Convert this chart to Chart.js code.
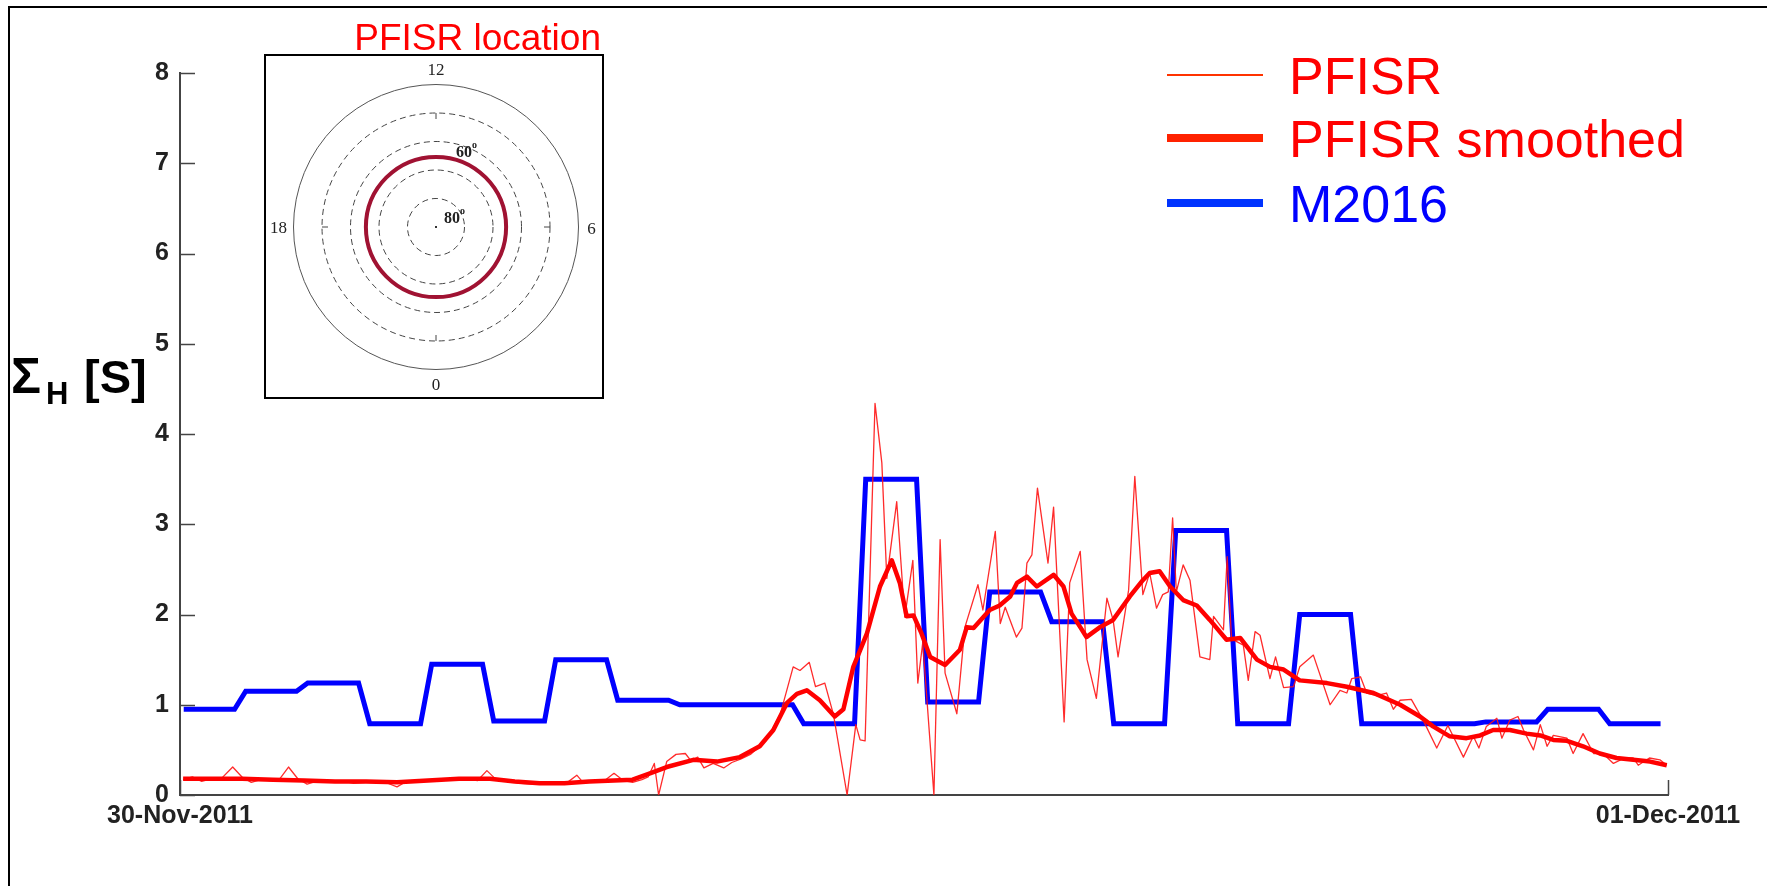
<!DOCTYPE html>
<html>
<head>
<meta charset="utf-8">
<title>Sigma_H at PFISR, 30 Nov 2011</title>
<script src="https://cdn.jsdelivr.net/npm/chart.js@4.4.1/dist/chart.umd.min.js"></script>
<style>
  html, body { margin: 0; padding: 0; background: #fff; }
  #wrap { width: 1767px; height: 886px; }
</style>
</head>
<body>
<div id="wrap"><canvas id="chart" width="1767" height="886"></canvas></div>
<script>
// time axis: hours after 30-Nov-2011 00:00 UT
const rawHours = [
  0.05, 0.2, 0.35, 0.5, 0.65, 0.85, 1.0, 1.15, 1.3, 1.45,
  1.6, 1.75, 1.9, 2.05, 2.2, 2.4, 2.6, 2.8, 3.0, 3.2,
  3.35, 3.5, 3.65, 3.85, 4.0, 4.2, 4.4, 4.6, 4.8, 4.95,
  5.1, 5.3, 5.5, 5.7, 5.9, 6.1, 6.25, 6.4, 6.5, 6.7,
  6.85, 7.0, 7.15, 7.3, 7.45,
  7.55, 7.65, 7.72, 7.85, 8.0, 8.15, 8.24, 8.35, 8.45, 8.6,
  8.77, 8.9, 9.05, 9.2, 9.45, 9.68, 9.89, 10.0, 10.15, 10.25,
  10.4, 10.54, 10.76, 10.9, 10.97, 11.05, 11.21, 11.32, 11.4, 11.56,
  11.69, 11.82, 11.9, 11.98, 12.16, 12.26, 12.34, 12.53, 12.66, 12.87,
  12.95, 13.15, 13.23, 13.31, 13.49, 13.58, 13.66, 13.74, 13.83, 14.0,
  14.09, 14.26, 14.35, 14.52, 14.63, 14.78, 14.95, 15.05, 15.13, 15.3,
  15.4, 15.53, 15.64, 15.75, 15.85, 15.94, 16.01, 16.07, 16.18, 16.29,
  16.45, 16.61, 16.67, 16.83, 16.89, 16.96, 17.15, 17.23, 17.34, 17.42,
  17.58, 17.67, 17.8, 17.96, 18.06, 18.28, 18.55, 18.71, 18.82, 18.9,
  19.04, 19.14, 19.3, 19.46, 19.57, 19.68, 19.86, 20.05, 20.27, 20.45,
  20.7, 20.86, 20.95, 21.07, 21.24, 21.32, 21.45, 21.58, 21.67, 21.83,
  21.94, 22.05, 22.15, 22.37, 22.47, 22.63, 22.8, 22.95, 23.12, 23.3,
  23.44, 23.52, 23.7, 23.87, 23.98
];
const rawValues = [
  0.17, 0.2, 0.15, 0.18, 0.17, 0.31, 0.2, 0.14, 0.17, 0.16,
  0.17, 0.31, 0.18, 0.12, 0.15, 0.14, 0.16, 0.13, 0.14, 0.15,
  0.13, 0.09, 0.15, 0.16, 0.15, 0.17, 0.17, 0.18, 0.16, 0.27,
  0.17, 0.15, 0.13, 0.12, 0.13, 0.13, 0.14, 0.22, 0.14, 0.15,
  0.16, 0.24, 0.16, 0.14, 0.17,
  0.2, 0.35, 0.0, 0.37, 0.45, 0.46, 0.38, 0.42, 0.3, 0.35,
  0.3, 0.36, 0.4, 0.45, 0.6, 0.89, 1.42, 1.38, 1.47, 1.2,
  1.24, 0.89, 0.0, 0.78, 0.61, 0.6, 4.34, 3.68, 2.4, 3.25,
  1.97, 2.6, 1.24, 1.69, 0.0, 2.83, 1.35, 0.9, 1.86, 2.33,
  2.05, 2.92, 1.9, 2.08, 1.75, 1.85, 2.57, 2.66, 3.4, 2.57,
  3.19, 0.81, 2.35, 2.7, 1.5, 1.07, 2.18, 1.94, 1.53, 2.27,
  3.53, 2.22, 2.46, 2.07, 2.22, 2.25, 3.07, 2.25, 2.55, 2.38,
  1.53, 1.5, 1.98, 1.83, 2.64, 1.73, 1.66, 1.27, 1.81, 1.77,
  1.29, 1.53, 1.19, 1.2, 1.42, 1.55, 1.0, 1.16, 1.13, 1.29,
  1.31, 1.13, 1.1, 1.13, 0.95, 1.05, 1.06, 0.83, 0.52, 0.77,
  0.42, 0.65, 0.52, 0.76, 0.85, 0.63, 0.83, 0.87, 0.72, 0.5,
  0.78, 0.54, 0.66, 0.63, 0.46, 0.68, 0.46, 0.46, 0.35, 0.41,
  0.41, 0.33, 0.41, 0.39, 0.33
];

const smoothHours = [
  0.05, 0.5, 1.0, 1.5, 2.0, 2.5, 3.0, 3.5, 4.0, 4.5,
  5.0, 5.4, 5.8, 6.2, 6.6, 7.0, 7.3, 7.58, 7.85, 8.28,
  8.66, 9.03, 9.35, 9.57, 9.79, 9.95, 10.11, 10.32, 10.56, 10.7,
  10.86, 11.08, 11.29, 11.48, 11.61, 11.72, 11.83, 11.96, 12.1, 12.34,
  12.58, 12.69, 12.8, 13.06, 13.22, 13.39, 13.5, 13.66, 13.82, 14.09,
  14.25, 14.38, 14.52, 14.62, 14.84, 15.05, 15.32, 15.53, 15.64, 15.8,
  15.97, 16.18, 16.4, 16.61, 16.88, 17.1, 17.37, 17.58, 17.8, 18.06,
  18.5, 18.82, 19.25, 19.68, 20.0, 20.21, 20.48, 20.75, 20.97, 21.18,
  21.45, 21.72, 21.94, 22.15, 22.37, 22.63, 22.9, 23.17, 23.44, 23.71, 23.98
];
const smoothValues = [
  0.18, 0.18, 0.18, 0.17, 0.16, 0.15, 0.15, 0.14, 0.16, 0.18,
  0.18, 0.15, 0.13, 0.13, 0.15, 0.16, 0.17, 0.24, 0.31, 0.39,
  0.37, 0.42, 0.54, 0.72, 1.02, 1.12, 1.16, 1.05, 0.87, 0.95,
  1.42, 1.79, 2.31, 2.6, 2.35, 1.98, 1.99, 1.79, 1.53, 1.44,
  1.61, 1.86, 1.85, 2.05, 2.1, 2.2, 2.35, 2.42, 2.31, 2.44,
  2.31, 2.01, 1.86, 1.75, 1.86, 1.94, 2.2, 2.38, 2.46, 2.48,
  2.31, 2.16, 2.1, 1.94, 1.72, 1.74, 1.5, 1.42, 1.39, 1.27,
  1.24, 1.2, 1.13, 1.0, 0.87, 0.76, 0.65, 0.63, 0.66, 0.72,
  0.72, 0.68, 0.66, 0.61, 0.6, 0.54, 0.46, 0.41, 0.39, 0.37, 0.33
];

// M2016 model: one value per UT hour
const modelHours = [
  0, 1, 2, 3, 4, 5, 6, 7, 8, 9, 10, 11,
  12, 13, 14, 15, 16, 17, 18, 19, 20, 21, 22, 23
];
const modelValues = [
  0.95, 1.15, 1.24, 0.79, 1.45, 0.82, 1.5, 1.05, 1.0, 1.0, 0.79, 3.5,
  1.03, 2.25, 1.92, 0.79, 2.93, 0.79, 2.0, 0.79, 0.79, 0.81, 0.95, 0.79
];

const yTickValues = [0, 1, 2, 3, 4, 5, 6, 7, 8];
const xTickHours = [0, 24];
const xTickLabels = ["30-Nov-2011", "01-Dec-2011"];
const seriesLabels = ["PFISR", "PFISR smoothed", "M2016"];

// inset: magnetic latitude rings, outer edge, PFISR latitude, MLT labels
const insetRings = [80, 70, 60, 50];
const insetEdgeLat = 40;
const pfisrLat = 65.4;
const insetMlt = ["12", "6", "0", "18"];

const SANS = "'Liberation Sans', Arial, Helvetica, sans-serif";
const SERIF = "'Liberation Serif', 'Times New Roman', serif";

const toPoints = (xs, ys) => xs.map((x, i) => ({ x: x, y: ys[i] }));

// hourly model values held flat through each hour
const modelPoints = modelHours.flatMap((h, i) => [
    { x: h + 0.06, y: modelValues[i] },
    { x: h + 0.88, y: modelValues[i] }
]);

const drawInset = (ctx) => {
    const box = { left: 265, top: 55, right: 603, bottom: 398 };
    const cx = 436, cy = 227, k = 2.85; // px per degree of colatitude
    const r = (lat) => (90 - lat) * k;

    ctx.save();
    ctx.fillStyle = "#ff0000";
    ctx.font = "37px " + SANS;
    ctx.textAlign = "right";
    ctx.textBaseline = "alphabetic";
    ctx.fillText("PFISR location", 601, 50);

    ctx.strokeStyle = "#000";
    ctx.lineWidth = 2;
    ctx.strokeRect(box.left, box.top, box.right - box.left, box.bottom - box.top);

    ctx.strokeStyle = "#555";
    ctx.lineWidth = 1;
    ctx.beginPath();
    ctx.arc(cx, cy, r(insetEdgeLat), 0, Math.PI * 2);
    ctx.stroke();

    ctx.setLineDash([6, 4]);
    ctx.strokeStyle = "#444";
    insetRings.forEach(lat => {
        ctx.beginPath();
        ctx.arc(cx, cy, r(lat), 0, Math.PI * 2);
        ctx.stroke();
    });
    ctx.setLineDash([]);

    // hour ticks on the 50 deg ring
    const rt = r(50);
    ctx.beginPath();
    [[0, -1], [1, 0], [0, 1], [-1, 0]].forEach(([dx, dy]) => {
        ctx.moveTo(cx + dx * rt, cy + dy * rt);
        ctx.lineTo(cx + dx * (rt - 6), cy + dy * (rt - 6));
    });
    ctx.stroke();

    ctx.strokeStyle = "#a01232";
    ctx.lineWidth = 4;
    ctx.beginPath();
    ctx.arc(cx, cy, r(pfisrLat), 0, Math.PI * 2);
    ctx.stroke();

    ctx.fillStyle = "#333";
    ctx.fillRect(cx - 1, cy - 1, 2, 2);

    ctx.fillStyle = "#222";
    ctx.font = "17px " + SERIF;
    ctx.textAlign = "center";
    ctx.textBaseline = "middle";
    const re = r(insetEdgeLat);
    ctx.fillText(insetMlt[0], cx, cy - re - 14);
    ctx.fillText(insetMlt[1], cx + re + 13, cy + 3);
    ctx.fillText(insetMlt[2], cx, cy + re + 16);
    ctx.fillText(insetMlt[3], cx - re - 15, cy + 2);

    const latLabel = (txt, x, y) => {
        ctx.textAlign = "left";
        ctx.textBaseline = "alphabetic";
        ctx.font = "bold 16px " + SERIF;
        ctx.fillText(txt, x, y);
        const w = ctx.measureText(txt).width;
        ctx.font = "bold 10px " + SERIF;
        ctx.fillText("o", x + w, y - 9);
    };
    latLabel("60", cx + 20, cy - 70);
    latLabel("80", cx + 8, cy - 4);
    ctx.restore();
};

const decor = {
    id: "decor",
    afterDraw(chart) {
        const { ctx, chartArea: area, scales } = chart;
        ctx.save();

        // figure frame (left and top edges)
        ctx.strokeStyle = "#000";
        ctx.lineWidth = 2;
        ctx.beginPath();
        ctx.moveTo(9, 886);
        ctx.lineTo(9, 7);
        ctx.lineTo(1767, 7);
        ctx.stroke();

        // inward tick marks
        ctx.strokeStyle = "#444";
        ctx.lineWidth = 1.5;
        ctx.beginPath();
        scales.y.ticks.forEach(t => {
            const py = Math.round(scales.y.getPixelForValue(t.value)) + 0.5;
            ctx.moveTo(area.left, py);
            ctx.lineTo(area.left + 15, py);
        });
        scales.x.ticks.forEach(t => {
            const px = Math.round(scales.x.getPixelForValue(t.value)) + 0.5;
            ctx.moveTo(px, area.bottom);
            ctx.lineTo(px, area.bottom - 15);
        });
        ctx.stroke();

        // y axis title: Sigma_H [S]
        ctx.fillStyle = "#000";
        ctx.textAlign = "left";
        ctx.textBaseline = "alphabetic";
        ctx.font = "bold 50px " + SANS;
        ctx.fillText("Σ", 11, 393);
        ctx.font = "bold 31px " + SANS;
        ctx.fillText("H", 46, 404);
        ctx.font = "bold 47px " + SANS;
        ctx.fillText("[S]", 84, 393);

        // legend
        const rows = [
            { text: seriesLabels[0], line: "#ff3300", width: 2, color: "#ff0000", y: 75 },
            { text: seriesLabels[1], line: "#ff2200", width: 8, color: "#ff0000", y: 138 },
            { text: seriesLabels[2], line: "#0033ff", width: 8, color: "#0000ff", y: 203 }
        ];
        ctx.font = "52px " + SANS;
        rows.forEach(row => {
            ctx.strokeStyle = row.line;
            ctx.lineWidth = row.width;
            ctx.beginPath();
            ctx.moveTo(1167, row.y);
            ctx.lineTo(1263, row.y);
            ctx.stroke();
            ctx.fillStyle = row.color;
            ctx.fillText(row.text, 1289, row.y + 19);
        });
        ctx.restore();

        drawInset(ctx);
    }
};

const tickFont = { family: SANS, size: 25, weight: "bold" };

new Chart(document.getElementById("chart"), {
    type: "line",
    data: {
        datasets: [
            {
                label: seriesLabels[1],
                data: toPoints(smoothHours, smoothValues),
                borderColor: "#ff0000",
                borderWidth: 4.5
            },
            {
                label: seriesLabels[0],
                data: toPoints(rawHours, rawValues),
                borderColor: "rgba(255,20,20,0.9)",
                borderWidth: 1.3
            },
            {
                label: seriesLabels[2],
                data: modelPoints,
                borderColor: "#0000ff",
                borderWidth: 5,
                borderJoinStyle: "miter"
            }
        ]
    },
    options: {
        responsive: false,
        animation: false,
        events: [],
        layout: { padding: { top: 73, right: 99, left: 0, bottom: 0 } },
        elements: {
            point: { radius: 0 },
            line: { tension: 0, fill: false, borderJoinStyle: "round" }
        },
        plugins: {
            legend: { display: false },
            tooltip: { enabled: false }
        },
        scales: {
            x: {
                type: "linear",
                min: 0,
                max: 24,
                afterBuildTicks: (scale) => {
                    scale.ticks = xTickHours.map(v => ({ value: v }));
                },
                afterFit: (scale) => { scale.height = 91; },
                ticks: {
                    callback: (value) => xTickLabels[xTickHours.indexOf(value)],
                    font: tickFont,
                    color: "#222",
                    padding: 6,
                    maxRotation: 0,
                    autoSkip: false
                },
                grid: { display: false, drawTicks: false },
                border: { display: true, color: "#444", width: 2 }
            },
            y: {
                min: 0,
                max: 8,
                afterBuildTicks: (scale) => {
                    scale.ticks = yTickValues.map(v => ({ value: v }));
                },
                afterFit: (scale) => { scale.width = 180; },
                ticks: {
                    font: tickFont,
                    color: "#222",
                    padding: 11
                },
                grid: { display: false, drawTicks: false },
                border: { display: true, color: "#444", width: 2 }
            }
        }
    },
    plugins: [decor]
});
</script>
</body>
</html>
